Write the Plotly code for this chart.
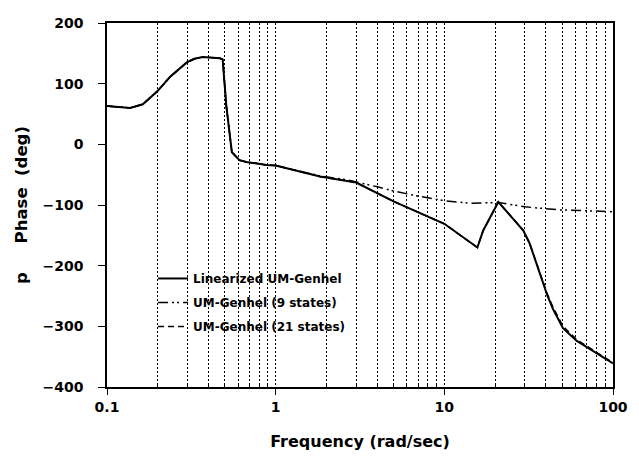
import plotly.graph_objects as go

# Frequencies (rad/sec) and phase (deg)
lin_f = [0.1, 0.137, 0.163, 0.198, 0.236, 0.27, 0.297, 0.33, 0.37, 0.466, 0.485, 0.51, 0.55, 0.61, 0.67, 0.88, 1.0,
         1.83, 3.0, 5.0, 10, 15.7, 17, 20.9, 29.4, 32, 40.7, 44, 50.5, 61, 84, 100]
lin_p = [63, 60, 66, 87, 111, 126, 135, 141, 144, 142, 140, 63, -13, -26, -29, -34, -35,
         -53, -63, -94, -131, -170, -142, -95, -142, -163, -248, -271, -303, -324, -348, -361]

s9_f = [0.1, 0.137, 0.163, 0.198, 0.236, 0.27, 0.297, 0.33, 0.37, 0.466, 0.485, 0.51, 0.55, 0.61, 0.67, 0.88, 1.0,
        1.83, 2.6, 4.0, 5.0, 6.9, 8.5, 10, 14, 21, 30, 48, 100]
s9_p = [63, 60, 66, 87, 111, 126, 135, 141, 144, 142, 140, 63, -13, -26, -29, -34, -35,
        -52, -58, -70, -77, -85, -89, -93, -97, -96, -103, -108, -111]

s21_f = [0.1, 0.137, 0.163, 0.198, 0.236, 0.27, 0.297, 0.33, 0.37, 0.466, 0.485, 0.51, 0.55, 0.61, 0.67, 0.88, 1.0,
         1.83, 3.0, 5.0, 10, 15.7, 17, 20.9, 29.4, 32, 40.7, 44, 50.5, 61, 84, 100]
s21_p = [63, 60, 66, 87, 111, 126, 135, 141, 144, 142, 140, 63, -13, -26, -29, -34, -35,
         -53, -63, -94, -131, -170, -142, -95, -142, -163, -246, -268, -300, -322, -346, -360]

major_x = [0.1, 1, 10, 100]
major_x_text = ["0.1", "1", "10", "100"]
minor_x = [m * d for d in (0.1, 1, 10) for m in range(2, 10)]
y_ticks = [-400, -300, -200, -100, 0, 100, 200]

FONT = "DejaVu Sans"
NB = "\u00a0"

fig = go.Figure()
fig.add_trace(go.Scatter(x=lin_f, y=lin_p, mode="lines", name="Linearized UM-Genhel",
                         legendgroup="a", line=dict(color="black", width=2)))
fig.add_trace(go.Scatter(x=s9_f, y=s9_p, mode="lines", name="UM-Genhel (9 states)",
                         legendgroup="b",
                         line=dict(color="black", width=1.5, dash="10px,4px,2px,3px,2px,4px")))
fig.add_trace(go.Scatter(x=s21_f, y=s21_p, mode="lines", name="UM-Genhel (21 states)",
                         legendgroup="c", line=dict(color="black", width=1.5, dash="6px,4px")))

fig.update_layout(
    width=639, height=459,
    margin=dict(l=99, r=34, t=7, b=80),
    paper_bgcolor="white", plot_bgcolor="white",
    font=dict(family=FONT, size=14, color="black", weight="bold"),
    showlegend=True,
    legend=dict(x=0.091, y=0.338, xanchor="left", yanchor="top",
                bgcolor="rgba(0,0,0,0)", font=dict(size=12, weight="bold"),
                tracegroupgap=5),
    xaxis=dict(
        type="log", range=[-1, 2],
        tickmode="array", tickvals=major_x, ticktext=major_x_text,
        ticks="outside", ticklen=6, tickcolor="black",
        showline=True, linecolor="black", linewidth=1.5, mirror=True,
        showgrid=True, gridcolor="black", griddash="2px,2px", gridwidth=1,
        zeroline=False,
        tickfont=dict(size=14, weight="bold"),
        title=dict(text="Frequency (rad/sec)", font=dict(size=16, weight="bold"), standoff=22),
        minor=dict(tickmode="array", tickvals=minor_x, ticks="inside", ticklen=3,
                   tickcolor="black", showgrid=True, gridcolor="black",
                   griddash="2px,2px", gridwidth=1),
    ),
    yaxis=dict(
        range=[-400, 200], tickmode="array", tickvals=y_ticks,
        ticks="outside", ticklen=7, tickcolor="black",
        ticklabelstandoff=12,
        showline=True, linecolor="black", linewidth=1.5, mirror=True,
        showgrid=False, zeroline=False,
        tickfont=dict(size=14, weight="bold"),
        title=dict(text="p" + NB * 5 + "Phase" + NB * 2 + "(deg)" + NB * 3,
                   font=dict(size=16.5, weight="bold"), standoff=11),
    ),
)

fig.write_html("out.html")
